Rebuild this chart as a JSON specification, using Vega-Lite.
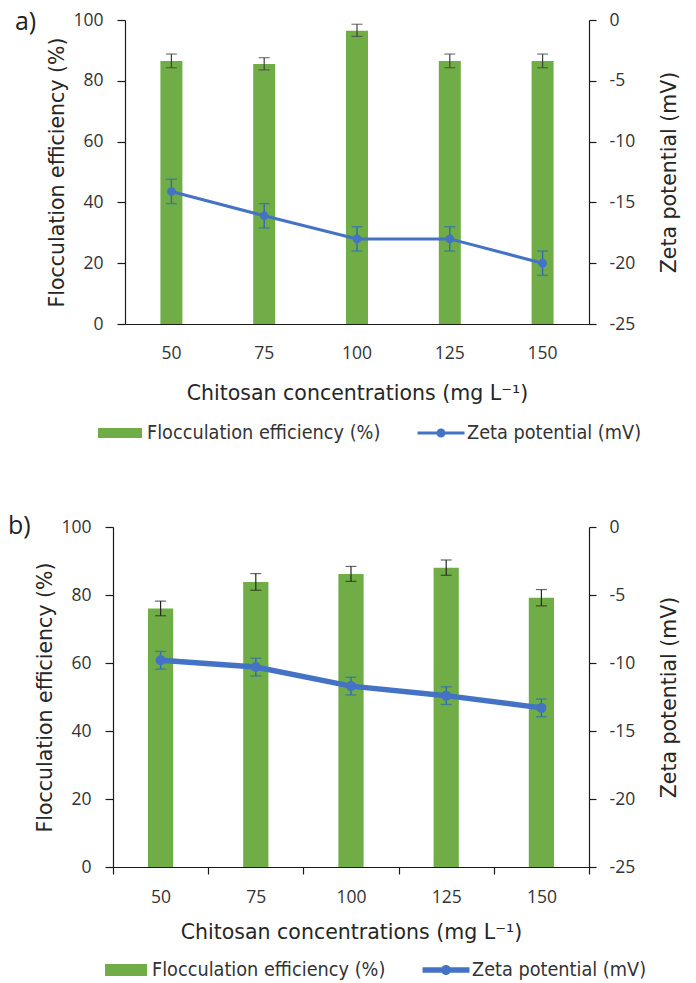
{
  "$schema": "https://vega.github.io/schema/vega-lite/v6.json",
  "padding": {"left": 7, "top": 10, "right": 8, "bottom": 0},
  "background": "white",
  "config": {
    "view": {"stroke": null},
    "axis": {
      "grid": false,
      "domainColor": "#1a1a1a",
      "domainWidth": 1.2,
      "tickColor": "#1a1a1a",
      "tickWidth": 1.2,
      "tickSize": 7,
      "labelFont": "Open Sans",
      "labelFontSize": 17.5,
      "labelColor": "#333333",
      "labelPadding": 11,
      "titleFont": "DejaVu Sans",
      "titleFontSize": 20.5,
      "titleFontWeight": "normal",
      "titleColor": "#262626"
    },
    "legend": {
      "labelFont": "'DejaVu Sans Condensed', 'Liberation Sans', sans-serif",
      "labelFontSize": 19.7,
      "labelColor": "#333333",
      "labelLimit": 400,
      "orient": "none",
      "direction": "horizontal"
    },
    "title": {"font": "Open Sans", "fontSize": 25, "fontWeight": "normal", "color": "#222222"}
  },
  "datasets": {
    "a": [
      {"conc": 50, "eff": 86.5, "effLo": 84.3, "effHi": 88.8, "zeta": -14.1, "zLo": -15.1, "zHi": -13.1},
      {"conc": 75, "eff": 85.5, "effLo": 83.6, "effHi": 87.6, "zeta": -16.1, "zLo": -17.1, "zHi": -15.1},
      {"conc": 100, "eff": 96.5, "effLo": 94.6, "effHi": 98.6, "zeta": -18.0, "zLo": -19.0, "zHi": -17.0},
      {"conc": 125, "eff": 86.5, "effLo": 84.3, "effHi": 88.8, "zeta": -18.0, "zLo": -19.0, "zHi": -17.0},
      {"conc": 150, "eff": 86.5, "effLo": 84.3, "effHi": 88.8, "zeta": -20.0, "zLo": -21.0, "zHi": -19.0}
    ],
    "b": [
      {"conc": 50, "eff": 76.0, "effLo": 73.9, "effHi": 78.2, "zeta": -9.8, "zLo": -10.45, "zHi": -9.15},
      {"conc": 75, "eff": 83.8, "effLo": 81.4, "effHi": 86.3, "zeta": -10.3, "zLo": -10.95, "zHi": -9.65},
      {"conc": 100, "eff": 86.2, "effLo": 84.0, "effHi": 88.4, "zeta": -11.7, "zLo": -12.35, "zHi": -11.05},
      {"conc": 125, "eff": 88.0, "effLo": 85.8, "effHi": 90.3, "zeta": -12.4, "zLo": -13.05, "zHi": -11.75},
      {"conc": 150, "eff": 79.2, "effLo": 76.8, "effHi": 81.6, "zeta": -13.3, "zLo": -13.95, "zHi": -12.65}
    ]
  },
  "concat": [
    {
      "title": {"text": "a)", "anchor": "start", "frame": "bounds", "orient": "top", "baseline": "top", "offset": -24, "dx": -33},
      "width": 476,
      "height": 304,
      "data": {"name": "a"},
      "encoding": {
        "x": {
          "field": "conc", "type": "ordinal",
          "scale": {"paddingInner": 0, "paddingOuter": 0, "range": [12, 476]},
          "axis": {"title": "Chitosan concentrations (mg L⁻¹)", "labelAngle": 0, "ticks": false, "labelPadding": 20, "titlePadding": 22}
        }
      },
      "layer": [
        {
          "layer": [
            {
              "mark": {"type": "bar", "width": {"band": 0.237}},
              "encoding": {
                "y": {"field": "eff", "type": "quantitative", "scale": {"domain": [0, 100], "nice": false, "zero": false},
                  "axis": {"values": [0, 20, 40, 60, 80, 100], "offset": -12, "tickSize": 8, "labelPadding": 14, "title": "Flocculation efficiency (%)", "titlePadding": 5}},
                "fill": {"datum": "Flocculation efficiency (%)", "scale": {"range": ["#70AD47"]},
                  "legend": {"title": null, "orient": "none", "legendX": -4, "legendY": 402, "symbolType": "M-2,-0.46H2V0.46H-2Z", "symbolSize": 484, "symbolStrokeWidth": 0, "labelOffset": 16}}
              }
            },
            {
              "mark": {"type": "rule", "color": "#404040", "strokeWidth": 1.2},
              "encoding": {"y": {"field": "effLo", "type": "quantitative", "title": "Flocculation efficiency (%)"}, "y2": {"field": "effHi"}}
            },
            {
              "mark": {"type": "tick", "color": "#404040", "thickness": 1.2, "size": 11},
              "encoding": {"y": {"field": "effLo", "type": "quantitative", "title": "Flocculation efficiency (%)"}}
            },
            {
              "mark": {"type": "tick", "color": "#404040", "thickness": 1.2, "size": 11},
              "encoding": {"y": {"field": "effHi", "type": "quantitative", "title": "Flocculation efficiency (%)"}}
            }
          ]
        },
        {
          "layer": [
            {
              "mark": {"type": "line", "strokeWidth": 3},
              "encoding": {
                "y": {"field": "zeta", "type": "quantitative", "scale": {"domain": [-25, 0], "nice": false, "zero": false},
                  "axis": {"orient": "right", "values": [-25, -20, -15, -10, -5, 0], "labelExpr": "replace(datum.label, '−', '-')", "labelPadding": 13, "title": "Zeta potential (mV)", "titleAngle": 270, "titleBaseline": "top", "titlePadding": 25}},
                "stroke": {"datum": "Zeta potential (mV)", "scale": {"range": ["#4472C4"]},
                  "legend": {"title": null, "orient": "none", "legendX": 317, "legendY": 402, "symbolType": "M-2.136,-0.136H2.136V0.136H-2.136Z M0.41,0A0.41,0.41 0 1,1 -0.41,0A0.41,0.41 0 1,1 0.41,0Z", "symbolSize": 484, "labelOffset": 15,
                    "encode": {"symbols": {"update": {"fill": {"value": "#4472C4"}, "strokeWidth": {"value": 0}, "opacity": {"value": 1}}}}}}
              }
            },
            {
              "mark": {"type": "rule", "color": "#2E6DB4", "strokeWidth": 1.4},
              "encoding": {"y": {"field": "zLo", "type": "quantitative", "title": "Zeta potential (mV)"}, "y2": {"field": "zHi"}}
            },
            {
              "mark": {"type": "tick", "color": "#2E6DB4", "thickness": 1.4, "size": 11},
              "encoding": {"y": {"field": "zLo", "type": "quantitative", "title": "Zeta potential (mV)"}}
            },
            {
              "mark": {"type": "tick", "color": "#2E6DB4", "thickness": 1.4, "size": 11},
              "encoding": {"y": {"field": "zHi", "type": "quantitative", "title": "Zeta potential (mV)"}}
            },
            {
              "mark": {"type": "point", "filled": true, "opacity": 1, "size": 75, "color": "#4472C4"},
              "encoding": {"y": {"field": "zeta", "type": "quantitative", "title": "Zeta potential (mV)"}}
            }
          ]
        }
      ],
      "resolve": {"scale": {"y": "independent"}}
    },
    {
      "title": {"text": "b)", "anchor": "start", "frame": "bounds", "orient": "top", "baseline": "top", "offset": -21, "dx": -28},
      "width": 476,
      "height": 340,
      "data": {"name": "b"},
      "encoding": {
        "x": {
          "field": "conc", "type": "ordinal",
          "scale": {"paddingInner": 0, "paddingOuter": 0},
          "axis": {"title": "Chitosan concentrations (mg L⁻¹)", "labelAngle": 0, "ticks": true, "tickBand": "extent", "labelPadding": 14, "titlePadding": 17}
        }
      },
      "layer": [
        {
          "layer": [
            {
              "mark": {"type": "bar", "width": {"band": 0.265}},
              "encoding": {
                "y": {"field": "eff", "type": "quantitative", "scale": {"domain": [0, 100], "nice": false, "zero": false},
                  "axis": {"values": [0, 20, 40, 60, 80, 100], "tickSize": 8, "labelPadding": 14, "title": "Flocculation efficiency (%)", "titlePadding": 5}},
                "fill": {"datum": "Flocculation efficiency (%)", "scale": {"range": ["#70AD47"]},
                  "legend": {"title": null, "orient": "none", "legendX": 2, "legendY": 432, "symbolType": "M-1.909,-0.545H1.909V0.545H-1.909Z", "symbolSize": 484, "symbolStrokeWidth": 0, "labelOffset": 15}}
              }
            },
            {
              "mark": {"type": "rule", "color": "#262626", "strokeWidth": 1.2},
              "encoding": {"y": {"field": "effLo", "type": "quantitative", "title": "Flocculation efficiency (%)"}, "y2": {"field": "effHi"}}
            },
            {
              "mark": {"type": "tick", "color": "#262626", "thickness": 1.2, "size": 11},
              "encoding": {"y": {"field": "effLo", "type": "quantitative", "title": "Flocculation efficiency (%)"}}
            },
            {
              "mark": {"type": "tick", "color": "#262626", "thickness": 1.2, "size": 11},
              "encoding": {"y": {"field": "effHi", "type": "quantitative", "title": "Flocculation efficiency (%)"}}
            }
          ]
        },
        {
          "layer": [
            {
              "mark": {"type": "line", "strokeWidth": 5.5},
              "encoding": {
                "y": {"field": "zeta", "type": "quantitative", "scale": {"domain": [-25, 0], "nice": false, "zero": false},
                  "axis": {"orient": "right", "values": [-25, -20, -15, -10, -5, 0], "labelExpr": "replace(datum.label, '−', '-')", "labelPadding": 13, "title": "Zeta potential (mV)", "titleAngle": 270, "titleBaseline": "top", "titlePadding": 25}},
                "stroke": {"datum": "Zeta potential (mV)", "scale": {"range": ["#4472C4"]},
                  "legend": {"title": null, "orient": "none", "legendX": 322, "legendY": 432, "symbolType": "M-2.136,-0.25H2.136V0.25H-2.136Z M0.4545,0A0.4545,0.4545 0 1,1 -0.4545,0A0.4545,0.4545 0 1,1 0.4545,0Z", "symbolSize": 484, "labelOffset": 15,
                    "encode": {"symbols": {"update": {"fill": {"value": "#4472C4"}, "strokeWidth": {"value": 0}, "opacity": {"value": 1}}}}}}
              }
            },
            {
              "mark": {"type": "rule", "color": "#2E6DB4", "strokeWidth": 1.4},
              "encoding": {"y": {"field": "zLo", "type": "quantitative", "title": "Zeta potential (mV)"}, "y2": {"field": "zHi"}}
            },
            {
              "mark": {"type": "tick", "color": "#2E6DB4", "thickness": 1.4, "size": 11},
              "encoding": {"y": {"field": "zLo", "type": "quantitative", "title": "Zeta potential (mV)"}}
            },
            {
              "mark": {"type": "tick", "color": "#2E6DB4", "thickness": 1.4, "size": 11},
              "encoding": {"y": {"field": "zHi", "type": "quantitative", "title": "Zeta potential (mV)"}}
            },
            {
              "mark": {"type": "point", "filled": true, "opacity": 1, "size": 100, "color": "#4472C4"},
              "encoding": {"y": {"field": "zeta", "type": "quantitative", "title": "Zeta potential (mV)"}}
            }
          ]
        }
      ],
      "resolve": {"scale": {"y": "independent"}}
    }
  ],
  "columns": 1,
  "align": "none",
  "spacing": 71,
  "resolve": {"scale": {"fill": "independent", "stroke": "independent"}}
}
